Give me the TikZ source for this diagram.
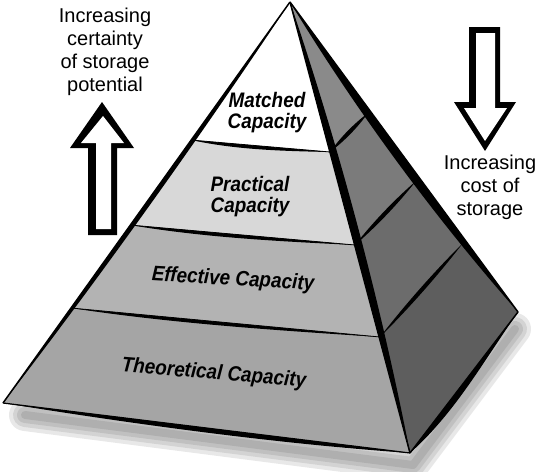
\documentclass[tikz,border=0pt]{standalone}
\usepackage{fontspec}
\setmainfont{Liberation Sans}
\newfontfamily\lblfont[FakeStretch=0.9]{Liberation Sans}
\usetikzlibrary{calc}
\definecolor{practical}{HTML}{D8D8D8}
\definecolor{effective}{HTML}{B3B3B3}
\definecolor{theor}{HTML}{A5A5A5}
\definecolor{rfa}{HTML}{8A8A8A}
\definecolor{rfb}{HTML}{7B7B7B}
\definecolor{rfc}{HTML}{6C6C6C}
\definecolor{rfd}{HTML}{5E5E5E}
% one-sided tapered stroke: from #1 to #2, bulging by #3 (at 1/3) and #4 (at 2/3)
\newcommand\wedgeline[4]{\fill[black] (#1) .. controls ($(#1)!0.33!(#2)+(#3)$) and ($(#1)!0.67!(#2)+(#4)$) .. (#2) -- cycle;}
% two-sided tapered stroke
\newcommand\lensline[3]{\fill[black] (#1) .. controls ($(#1)!0.33!(#2)+(#3)$) and ($(#1)!0.67!(#2)+(#3)$) .. (#2) .. controls ($(#1)!0.67!(#2)-(#3)$) and ($(#1)!0.33!(#2)-(#3)$) .. (#1) -- cycle;}
\begin{document}
\begin{tikzpicture}[x=1pt,y=-1pt,
  sidetxt/.style={font=\fontsize{20}{23}\selectfont, align=center, inner sep=0pt},
  lbl/.style={font=\lblfont\bfseries\itshape\fontsize{21}{21}\selectfont, align=center, inner sep=0pt},
  shadowline/.style={black, opacity=0.09, line join=round, line cap=round}]
\useasboundingbox (0,0) rectangle (540,471);

% corner coordinates
\coordinate (A) at (290,2);
\coordinate (L1) at (191,140);
\coordinate (L2) at (130,225);
\coordinate (L3) at (71,308);
\coordinate (L4) at (3,403);
\coordinate (R1) at (330,152);
\coordinate (R2) at (355,245);
\coordinate (R3) at (380,337);
\coordinate (R4) at (410,453);
\coordinate (C) at (518,312);
\coordinate (Q1) at (368,113);
\coordinate (Q2) at (416,181);
\coordinate (Q3) at (463,243);

% soft shadow
\begin{scope}[shift={(3,7)}]
\foreach \w in {32,24,16,8}
  \draw[shadowline, line width=\w pt] (22,408) -- (410,458) -- (512,322);
\end{scope}

% front face bands
\fill[white] (A) -- (R1) -- (L1) -- cycle;
\fill[practical] (L1) -- (R1) -- (R2) -- (L2) -- cycle;
\fill[effective] (L2) -- (R2) -- (R3) -- (L3) -- cycle;
\fill[theor] (L3) -- (R3) -- (R4) -- (L4) -- cycle;

% right face
\fill[rfa] (A) -- (C) -- (R4) -- cycle;
\fill[rfb] (R1) -- (Q1) -- (Q2) -- (R2) -- cycle;
\fill[rfc] (R2) -- (Q2) -- (Q3) -- (R3) -- cycle;
\fill[rfd] (R3) -- (Q3) -- (C) -- (R4) -- cycle;

% band boundaries (front)
\draw[line width=0.8] (L1) -- (R1); \wedgeline{L1}{R1}{0,6}{0,3}
\draw[line width=0.8] (L2) -- (R2); \wedgeline{L2}{R2}{0,6}{0,3}
\draw[line width=0.8] (L3) -- (R3); \wedgeline{L3}{R3}{0,6}{0,3}

% dividers (right face)
\lensline{R1}{Q1}{2,1.8}
\lensline{R2}{Q2}{2,1.9}
\lensline{R3}{Q3}{2,1.8}

% edges
\draw[line width=1.5] (A) -- (L4); \wedgeline{A}{L4}{4.5,3.3}{4.5,3.3}
\draw[line width=1.5] (A) -- (R4); \wedgeline{A}{R4}{10,-2.7}{10,-2.7}
\draw[line width=1.5] (A) -- (C);  \wedgeline{A}{C}{-9,6.6}{-9,6.6}
\draw[line width=1.5] (C) -- (R4); \wedgeline{C}{R4}{2,1.5}{9,7}
\draw[line width=1.2] (L4) -- (R4); \wedgeline{L4}{R4}{-0.5,5}{-0.8,7}

% labels
\node[lbl] (matched) at (267,112.5) {Matched\\Capacity};
\node[lbl] (practical) at (250,197) {Practical\\Capacity};
\node[lbl, rotate=-3.2] (effective) at (233,280) {Effective Capacity};
\node[lbl, rotate=-4.8] (theoretical) at (214,374) {Theoretical Capacity};

% side texts
\node[sidetxt, anchor=north] (certainty) at (105,8) {Increasing\\certainty\\of storage\\potential};
\node[sidetxt, anchor=north] (cost) at (490,155) {Increasing\\cost of\\storage};

% up arrow
\fill[black] (102,102) -- (134,148) -- (117,148) -- (117,235) -- (88,235) -- (88,148) -- (70,148) -- cycle;
\fill[white] (103,116) -- (124,143) -- (111,143) -- (111,229) -- (96,229) -- (96,143) -- (81,143) -- cycle;

% down arrow
\fill[black] (469,27) -- (500,27) -- (500,102) -- (516,102) -- (485,151) -- (454,102) -- (469,102) -- cycle;
\fill[white] (476,33) -- (495,33) -- (495,108) -- (507,108) -- (485,141) -- (464,108) -- (476,108) -- cycle;
\end{tikzpicture}
\end{document}
